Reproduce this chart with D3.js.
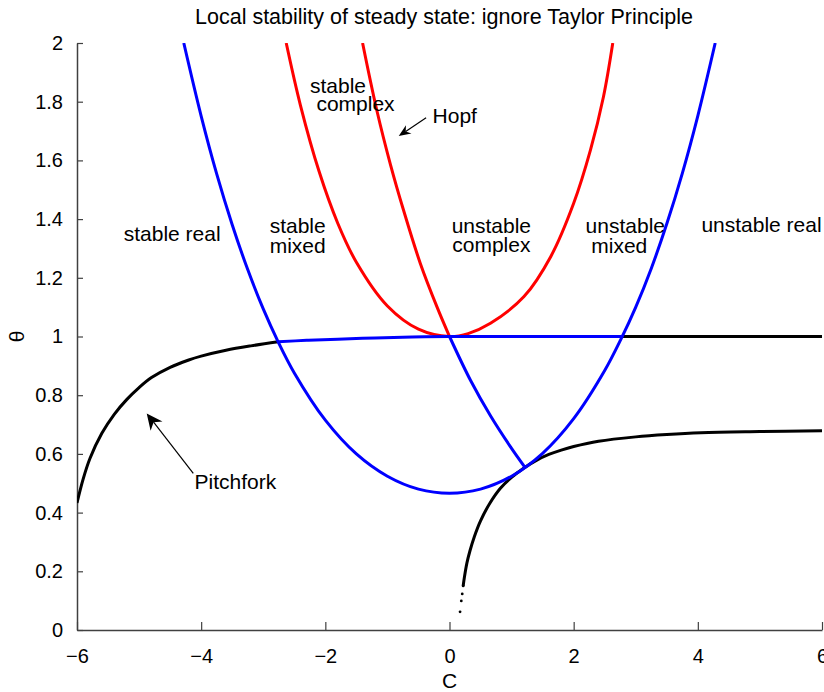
<!DOCTYPE html>
<html>
<head>
<meta charset="utf-8">
<script src="https://cdn.jsdelivr.net/npm/d3@7"></script>
<style>
  body { margin: 0; background: #fff; }
  svg text { font-family: "Liberation Sans", Arial, Helvetica, sans-serif; fill: #000; }
</style>
</head>
<body>
<svg id="chart" width="824" height="692"></svg>
<script>
// ---- data (C, theta) ----
const xTicks = [-6, -4, -2, 0, 2, 4, 6];
const yTicks = [0, 0.2, 0.4, 0.6, 0.8, 1, 1.2, 1.4, 1.6, 1.8, 2];

// pitchfork branch (black left part, blue middle part, black right part)
const pitchLeftC = [-6, -5.9, -5.79, -5.6, -5.4, -5.2, -5.0, -4.8, -4.5, -4.2, -4.0, -3.6, -3.2, -2.76];
const pitchLeftTheta = [0.433, 0.515, 0.585, 0.67, 0.735, 0.785, 0.826, 0.86, 0.895, 0.92, 0.933, 0.953, 0.968, 0.982];
const pitchMidC = [-2.76, -2.3, -1.8, -1.2, -0.6, 0, 1, 2, 2.77];
const pitchMidTheta = [0.982, 0.987, 0.991, 0.995, 0.998, 1.0, 1.0, 1.0, 1.0];
const pitchRightC = [2.77, 4, 6];
const pitchRightTheta = [1.0, 1.0, 1.0];

// lower black branch, plus the sparse dots at its foot
const lowerC = [0.22, 0.24, 0.28, 0.33, 0.4, 0.5, 0.65, 0.82, 1.0, 1.2, 1.4, 1.6, 1.8, 2.0, 2.4, 3.0, 3.5, 4.05, 5.0, 6.0];
const lowerTheta = [0.15, 0.18, 0.228, 0.27, 0.318, 0.372, 0.432, 0.483, 0.52, 0.552, 0.578, 0.598, 0.613, 0.625, 0.643, 0.658, 0.666, 0.672, 0.676, 0.679];
const lowerDotsC = [0.17, 0.19, 0.205, 0.22];
const lowerDotsTheta = [0.062, 0.099, 0.123, 0.15];

// wide blue U curve
const blueUC = [-4.28, -4, -3.75, -3.5, -3.25, -3, -2.76, -2.5, -2, -1.5, -1, -0.5, 0, 0.5, 1, 1.5, 2, 2.5, 2.76, 3, 3.25, 3.5, 3.75, 4, 4.28];
const blueUTheta = [2.0, 1.751, 1.554, 1.381, 1.228, 1.094, 0.982, 0.876, 0.715, 0.6, 0.524, 0.48, 0.466, 0.48, 0.524, 0.602, 0.72, 0.884, 0.99, 1.1, 1.232, 1.384, 1.556, 1.752, 2.0];

// red U curve
const redUC = [-2.63, -2.4, -2.1, -1.8, -1.5, -1.0, -0.5, 0, 0.3, 0.66, 1.2, 1.63, 2.0, 2.27, 2.48, 2.63];
const redUTheta = [2.0, 1.787, 1.562, 1.386, 1.253, 1.104, 1.025, 1.0, 1.01, 1.045, 1.136, 1.272, 1.454, 1.635, 1.817, 2.0];

// Hopf curve: red above theta = 1, blue below
const hopfRedC = [-1.4, -1.17, -0.95, -0.74, -0.47, -0.2, 0];
const hopfRedTheta = [2.0, 1.77, 1.585, 1.43, 1.249, 1.1, 1.0];
const hopfBlueC = [0, 0.34, 0.66, 0.98, 1.21];
const hopfBlueTheta = [1.0, 0.85, 0.73, 0.625, 0.556];

const zip = (cs, ts) => cs.map((c, i) => ({ c: c, t: ts[i] }));

// ---- layout ----
const svg = d3.select("#chart");
const x = d3.scaleLinear().domain([-6, 6]).range([77, 822]);
const y = d3.scaleLinear().domain([0, 2]).range([630, 43]);

svg.append("defs").append("clipPath").attr("id", "plot-clip")
  .append("rect")
  .attr("x", x(-6)).attr("y", y(2))
  .attr("width", x(6) - x(-6)).attr("height", y(0) - y(2));

// axes, ticks pointing inward
const axisColor = "#404040";
const gx = svg.append("g")
  .attr("transform", `translate(0,${y(0)})`)
  .call(d3.axisBottom(x).tickValues(xTicks).tickFormat(d3.format("~g"))
    .tickSizeInner(-8).tickSizeOuter(0).tickPadding(19));
const gy = svg.append("g")
  .attr("transform", `translate(${x(-6)},0)`)
  .call(d3.axisLeft(y).tickValues(yTicks).tickFormat(d3.format("~g"))
    .tickSizeInner(-6).tickSizeOuter(0).tickPadding(14));
[gx, gy].forEach(g => {
  g.select(".domain").attr("stroke", axisColor).attr("stroke-width", 1.5);
  g.selectAll(".tick line").attr("stroke", axisColor).attr("stroke-width", 1.2);
  g.selectAll(".tick text").attr("fill", "#000").style("font-size", "20px")
    .style("font-family", "'Liberation Sans', Arial, sans-serif");
});

// curves
const line = d3.line()
  .x(d => x(d.c))
  .y(d => y(d.t))
  .curve(d3.curveCatmullRom.alpha(0.5));

const plot = svg.append("g").attr("clip-path", "url(#plot-clip)");
const series = [
  { pts: zip(pitchLeftC, pitchLeftTheta), color: "#000" },
  { pts: zip(pitchRightC, pitchRightTheta), color: "#000" },
  { pts: zip(lowerC, lowerTheta), color: "#000" },
  { pts: zip(redUC, redUTheta), color: "#ff0000" },
  { pts: zip(hopfRedC, hopfRedTheta), color: "#ff0000" },
  { pts: zip(pitchMidC, pitchMidTheta), color: "#0000ff" },
  { pts: zip(blueUC, blueUTheta), color: "#0000ff" },
  { pts: zip(hopfBlueC, hopfBlueTheta), color: "#0000ff" }
];
plot.selectAll("path.curve")
  .data(series)
  .enter()
  .append("path")
  .attr("class", "curve")
  .attr("d", d => line(d.pts))
  .attr("fill", "none")
  .attr("stroke", d => d.color)
  .attr("stroke-width", 3)
  .attr("stroke-linejoin", "round");

plot.selectAll("circle.tail")
  .data(zip(lowerDotsC, lowerDotsTheta))
  .enter()
  .append("circle")
  .attr("class", "tail")
  .attr("cx", d => x(d.c))
  .attr("cy", d => y(d.t))
  .attr("r", 1.4)
  .attr("fill", "#000");

// region labels (anchored at centre)
const labels = [
  { text: "stable real", c: -4.467, t: 1.327 },
  { text: "stable", c: -2.445, t: 1.352 },
  { text: "mixed", c: -2.445, t: 1.286 },
  { text: "stable", c: -1.796, t: 1.831 },
  { text: "complex", c: -1.514, t: 1.768 },
  { text: "Hopf", c: 0.084, t: 1.726 },
  { text: "unstable", c: 0.674, t: 1.354 },
  { text: "complex", c: 0.674, t: 1.289 },
  { text: "unstable", c: 2.832, t: 1.352 },
  { text: "mixed", c: 2.734, t: 1.286 },
  { text: "unstable real", c: 5.026, t: 1.357 },
  { text: "Pitchfork", c: -3.448, t: 0.479 }
];
svg.append("g").selectAll("text")
  .data(labels)
  .enter()
  .append("text")
  .attr("x", d => x(d.c))
  .attr("y", d => y(d.t))
  .attr("text-anchor", "middle")
  .style("font-size", "21px")
  .text(d => d.text);

// annotation arrows (tail -> tip)
function arrow(c0, t0, c1, t1, len, half) {
  const x0 = x(c0), y0 = y(t0), x1 = x(c1), y1 = y(t1);
  const dx = x1 - x0, dy = y1 - y0, n = Math.hypot(dx, dy);
  const ux = dx / n, uy = dy / n, px = -uy, py = ux;
  svg.append("line")
    .attr("x1", x0).attr("y1", y0)
    .attr("x2", x1 - ux * len * 0.7).attr("y2", y1 - uy * len * 0.7)
    .attr("stroke", "#000").attr("stroke-width", 1.2);
  const pts = [
    [x1, y1],
    [x1 - ux * len + px * half, y1 - uy * len + py * half],
    [x1 - ux * len * 0.7, y1 - uy * len * 0.7],
    [x1 - ux * len - px * half, y1 - uy * len - py * half]
  ];
  svg.append("polygon").attr("points", pts.map(p => p.join(",")).join(" ")).attr("fill", "#000");
}
arrow(-4.127, 0.534, -4.877, 0.738, 16, 7.5);
arrow(-0.377, 1.745, -0.818, 1.683, 12, 5);

// title and axis labels
svg.append("text")
  .attr("x", 444).attr("y", 24)
  .attr("text-anchor", "middle")
  .style("font-size", "21.5px")
  .text("Local stability of steady state: ignore Taylor Principle");

svg.append("text")
  .attr("x", x(0)).attr("y", 688)
  .attr("text-anchor", "middle")
  .style("font-size", "21px")
  .text("C");

svg.append("text")
  .attr("transform", `translate(24,${y(1)}) rotate(-90)`)
  .attr("text-anchor", "middle")
  .style("font-size", "21px")
  .text("θ");
</script>
</body>
</html>
